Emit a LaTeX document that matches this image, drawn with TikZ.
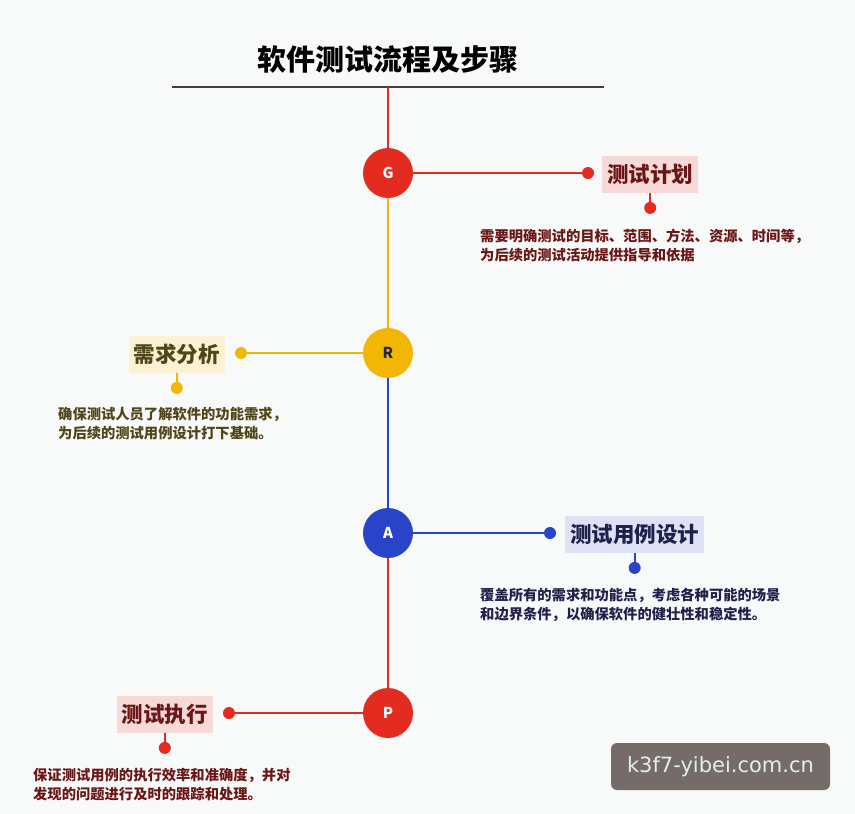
\documentclass[tikz,border=0pt]{standalone}
\usepackage{fontspec}
\usepackage{tikz}
\usetikzlibrary{positioning}
\newfontfamily\cjk{Noto Sans CJK SC}
\newfontfamily\wmfont{DejaVu Sans}
\definecolor{bgcol}{HTML}{F8FAF9}
\definecolor{gred}{HTML}{E32B1F}
\definecolor{ryellow}{HTML}{F2B705}
\definecolor{ablue}{HTML}{2A44C9}
\definecolor{pinkfill}{HTML}{F7D9D7}
\definecolor{yellowfill}{HTML}{FBF2D3}
\definecolor{bluefill}{HTML}{DFE2F7}
\definecolor{redtext}{HTML}{6B1616}
\definecolor{yellowtext}{HTML}{4F4518}
\definecolor{bluetext}{HTML}{1F214C}
\definecolor{wmgray}{HTML}{756C69}
\definecolor{wmtext}{HTML}{E2EFEA}

\begin{document}
\begin{tikzpicture}[x=1pt,y=-1pt,
    stage/.style={circle,minimum size=50pt,inner sep=0pt,font=\cjk\bfseries\fontsize{15}{15}\selectfont},
    tag/.style={minimum height=37pt,inner xsep=5pt,font=\cjk\bfseries\fontsize{21.5}{24}\selectfont},
    desc/.style={anchor=north west,align=left,inner sep=0pt,font=\cjk\bfseries\fontsize{14.3}{19}\selectfont},
    link/.style={line width=2.8pt},
    dot/.style={circle,minimum size=12pt,inner sep=0pt},
    stem/.style={line width=2.2pt}
]
\fill[bgcol] (0,0) rectangle (855,814);
\useasboundingbox (0,0) rectangle (855,814);

\node[font=\cjk\bfseries\fontsize{29}{33}\selectfont] (title) at (388,59) {软件测试流程及步骤};
\coordinate (ruleL) at (172,87);
\coordinate (ruleR) at (604,87);
\coordinate (top) at (388,87);
\draw[line width=1.4pt,black!75] (ruleL) -- (ruleR);

\node[stage,fill=gred,text=white] (G) at (388,173) {G};
\node[stage,fill=ryellow,text=black!85] (R) at (388,353) {R};
\node[stage,fill=ablue,text=white] (A) at (388,533) {A};
\node[stage,fill=gred,text=white] (P) at (388,713) {P};

\draw[link,gred] (top) -- (G);
\draw[link,ryellow] (G) -- (R);
\draw[link,ablue] (R) -- (A);
\draw[link,gred] (A) -- (P);

\node[dot,fill=gred] (Gdot) at (588,173) {};
\node[tag,fill=pinkfill,text=redtext,anchor=west] (plan) at (602,174) {测试计划};
\node[dot,fill=gred,below=9pt of plan] (plandot) {};
\draw[link,gred] (G) -- (Gdot);
\draw[stem,gred] (plan) -- (plandot);
\node[desc,text=redtext] (plantext) at (480,229) {需要明确测试的目标、范围、方法、资源、时间等，\\为后续的测试活动提供指导和依据};

\node[dot,fill=ryellow] (Rdot) at (241,353) {};
\node[tag,fill=yellowfill,text=yellowtext,anchor=east] (req) at (225,354) {需求分析};
\node[dot,fill=ryellow,below=9pt of req] (reqdot) {};
\draw[link,ryellow] (R) -- (Rdot);
\draw[stem,ryellow] (req) -- (reqdot);
\node[desc,text=yellowtext] (reqtext) at (58,407) {确保测试人员了解软件的功能需求，\\为后续的测试用例设计打下基础。};

\node[dot,fill=ablue] (Adot) at (550,533) {};
\node[tag,fill=bluefill,text=bluetext,anchor=west] (design) at (565,534) {测试用例设计};
\node[dot,fill=ablue,below=9pt of design] (designdot) {};
\draw[link,ablue] (A) -- (Adot);
\draw[stem,ablue] (design) -- (designdot);
\node[desc,text=bluetext] (designtext) at (480,588) {覆盖所有的需求和功能点，考虑各种可能的场景\\和边界条件，以确保软件的健壮性和稳定性。};

\node[dot,fill=gred] (Pdot) at (229,713) {};
\node[tag,fill=pinkfill,text=redtext,anchor=east] (exec) at (213,714) {测试执行};
\node[dot,fill=gred,below=9pt of exec] (execdot) {};
\draw[link,gred] (P) -- (Pdot);
\draw[stem,gred] (exec) -- (execdot);
\node[desc,text=redtext] (exectext) at (33,768) {保证测试用例的执行效率和准确度，并对\\发现的问题进行及时的跟踪和处理。};

\node[fill=wmgray,text=wmtext,rounded corners=6pt,minimum width=219pt,minimum height=47pt,font=\wmfont\fontsize{21}{24}\selectfont] (mark) at (720.5,766.5) {k3f7-yibei.com.cn};
\end{tikzpicture}
\end{document}
